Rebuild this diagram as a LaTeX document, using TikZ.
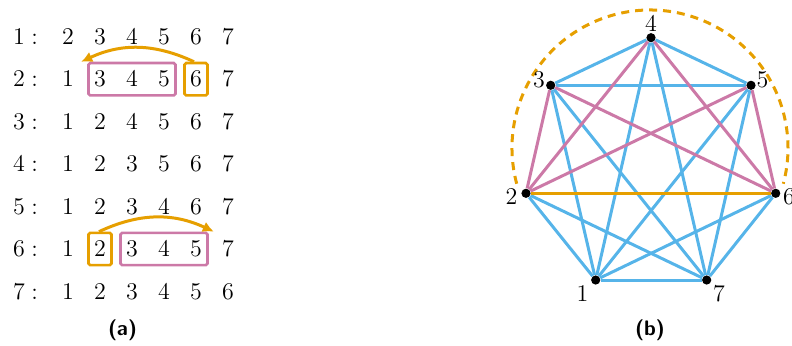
\documentclass[tikz,border=0pt]{standalone}
\usetikzlibrary{arrows.meta,fit}
\definecolor{cblue}{HTML}{56B4E9}
\definecolor{corange}{HTML}{E69F00}
\definecolor{cpink}{HTML}{CC79A7}
\begin{document}
\begin{tikzpicture}[x=0.5pt,y=-0.5pt,
  num/.style={inner sep=0pt, font=\fontsize{13}{15}\selectfont},
  vtx/.style={circle, fill=black, inner sep=0pt, minimum size=4.6pt},
  bedge/.style={cblue, line width=1.5pt},
  pedge/.style={cpink, line width=1.5pt},
  oedge/.style={corange, line width=1.5pt},
  pinkbox/.style={draw=cpink, line width=1.3pt, rounded corners=0.8pt, inner xsep=2.6pt, inner ysep=4pt},
  orabox/.style={draw=corange, line width=1.3pt, rounded corners=0.8pt, inner xsep=2.6pt, inner ysep=4pt},
  arr/.style={corange, line width=1.5pt, -{Latex[length=5.5pt,width=5.5pt]}},
  sublbl/.style={font=\sffamily\bfseries\fontsize{10.5}{12}\selectfont}
]
\useasboundingbox (0,0) rectangle (792,345);

% ---- table (a)
\foreach \i in {1,...,7} {
  \pgfmathsetmacro\yy{36.7+42.47*(\i-1)}
  \node[num] (l\i) at (25.5,\yy) {$\i:$};
  \foreach \c in {1,...,6} {
    \pgfmathtruncatemacro\v{\c<\i ? \c : \c+1}
    \node[num] (r\i c\c) at ({68+32*(\c-1)},\yy) {$\v$};
  }
}
\node[pinkbox, fit=(r2c2)(r2c4)] (pb2) {};
\node[orabox, fit=(r2c5)] (ob2) {};
\node[orabox, fit=(r6c2)] (ob6) {};
\node[pinkbox, fit=(r6c3)(r6c5)] (pb6) {};
\draw[arr] ([xshift=-1pt]ob2.north) to[bend right=25] ([xshift=-3pt]pb2.north west);
\draw[arr] ([xshift=-0.5pt]ob6.north) to[bend left=25] ([xshift=2.5pt]pb6.north east);
\node[sublbl] (capa) at (122.5,330) {(a)};

% ---- graph (b)
\node[vtx] (v4) at (651,37.7) {};
\node[vtx] (v3) at (550.7,85.3) {};
\node[vtx] (v5) at (751,85.3) {};
\node[vtx] (v2) at (526,193.3) {};
\node[vtx] (v6) at (775.7,193.3) {};
\node[vtx] (v1) at (595.7,280) {};
\node[vtx] (v7) at (706.7,280) {};

\foreach \a/\b in {4/3,4/5,3/5,4/1,4/7,3/1,3/7,5/1,5/7,2/1,2/7,6/1,6/7,1/7}
  \draw[bedge] (v\a) -- (v\b);
\foreach \a/\b in {3/2,3/6,5/2,5/6,4/2,4/6}
  \draw[pedge] (v\a) -- (v\b);
\draw[oedge] (v2) -- (v6);

\coordinate (arcc) at (650,148);
\draw[oedge, dash pattern=on 4pt off 3pt] (arcc) ++(165:138) arc[start angle=165, end angle=375, radius=138];

\node[num] (t4) at (651,23.5) {$4$};
\node[num] (t3) at (539,79.5) {$3$};
\node[num] (t5) at (762.5,79.5) {$5$};
\node[num] (t2) at (511.5,196.5) {$2$};
\node[num] (t6) at (789,196.5) {$6$};
\node[num] (t1) at (582.5,293.5) {$1$};
\node[num] (t7) at (719,293.5) {$7$};

\node[sublbl] (capb) at (650,330) {(b)};
\end{tikzpicture}
\end{document}
